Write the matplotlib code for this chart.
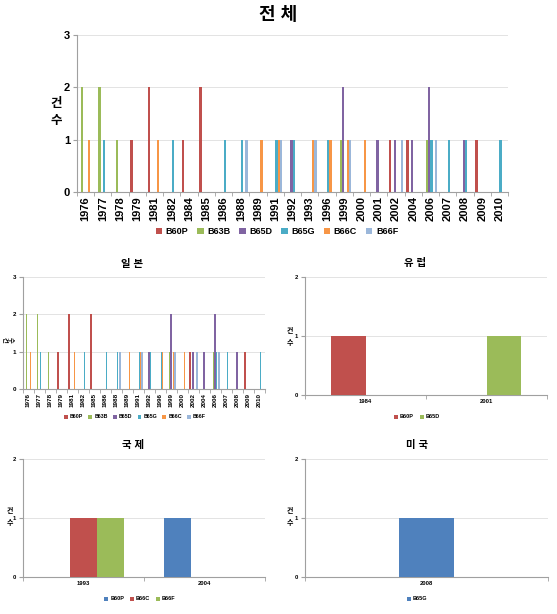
import matplotlib
matplotlib.use("Agg")
import matplotlib.pyplot as plt
import numpy as np

plt.rcParams['font.family'] = ['Liberation Sans', 'Noto Sans CJK KR', 'DejaVu Sans']
plt.rcParams['font.weight'] = 'bold'

# colours (Excel 2007 palette)
RED = '#C0504D'
GREEN = '#9BBB59'
PURPLE = '#8064A2'
TEAL = '#4BACC6'
ORANGE = '#F79646'
LBLUE = '#9BB7DA'
BLUE = '#4F81BD'

# ---- 전체 ----
years = ['1976', '1977', '1978', '1979', '1981', '1982', '1984', '1985', '1986', '1988',
         '1989', '1991', '1992', '1993', '1996', '1999', '2000', '2001', '2002', '2004',
         '2006', '2007', '2008', '2009', '2010']
b60p = [0, 0, 0, 1, 2, 0, 1, 2, 0, 0, 0, 0, 0, 0, 0, 0, 0, 0, 1, 1, 0, 0, 0, 1, 0]
b63b = [2, 2, 1, 0, 0, 0, 0, 0, 0, 0, 0, 0, 0, 0, 0, 1, 0, 0, 0, 0, 1, 0, 0, 0, 0]
b65d = [0, 0, 0, 0, 0, 0, 0, 0, 0, 0, 0, 0, 1, 0, 0, 2, 0, 1, 1, 1, 2, 0, 1, 0, 0]
b65g = [0, 1, 0, 0, 0, 1, 0, 0, 1, 1, 0, 1, 1, 0, 1, 0, 0, 0, 0, 0, 1, 1, 1, 0, 1]
b66c = [1, 0, 0, 0, 1, 0, 0, 0, 0, 0, 1, 1, 0, 1, 1, 1, 1, 0, 0, 0, 0, 0, 0, 0, 0]
b66f = [0, 0, 0, 0, 0, 0, 0, 0, 0, 1, 0, 1, 0, 1, 0, 1, 0, 0, 1, 0, 1, 0, 0, 0, 0]

# ---- 일본 ----
jp_years = ['1976', '1977', '1978', '1979', '1981', '1982', '1985', '1986', '1988', '1989',
            '1991', '1992', '1996', '1999', '2000', '2002', '2004', '2006', '2007', '2008',
            '2009', '2010']
jp_b60p = [0, 0, 0, 1, 2, 0, 2, 0, 0, 0, 0, 0, 0, 0, 0, 1, 0, 0, 0, 0, 1, 0]
jp_b63b = [2, 2, 1, 0, 0, 0, 0, 0, 0, 0, 0, 0, 0, 1, 0, 0, 0, 1, 0, 0, 0, 0]
jp_b65d = [0, 0, 0, 0, 0, 0, 0, 0, 0, 0, 0, 1, 0, 2, 0, 1, 1, 2, 0, 1, 0, 0]
jp_b65g = [0, 1, 0, 0, 0, 1, 0, 1, 1, 0, 1, 1, 1, 0, 0, 0, 0, 1, 1, 0, 0, 1]
jp_b66c = [1, 0, 0, 0, 1, 0, 0, 0, 0, 1, 1, 0, 1, 1, 1, 0, 0, 0, 0, 0, 0, 0]
jp_b66f = [0, 0, 0, 0, 0, 0, 0, 0, 1, 0, 1, 0, 0, 1, 0, 1, 0, 1, 0, 0, 0, 0]

# ---- 유럽 ----
eu_years = ['1984', '2001']
eu_b60p = [1, 0]
eu_b65d = [0, 1]

# ---- 국제 ----
in_years = ['1993', '2004']
in_b60p = [0, 1]
in_b66c = [1, 0]
in_b66f = [1, 0]

# ---- 미국 ----
us_years = ['2008']
us_b65g = [1]

main_series = [('B60P', b60p, RED), ('B63B', b63b, GREEN), ('B65D', b65d, PURPLE),
               ('B65G', b65g, TEAL), ('B66C', b66c, ORANGE), ('B66F', b66f, LBLUE)]
jp_series = [('B60P', jp_b60p, RED), ('B63B', jp_b63b, GREEN), ('B65D', jp_b65d, PURPLE),
             ('B65G', jp_b65g, TEAL), ('B66C', jp_b66c, ORANGE), ('B66F', jp_b66f, LBLUE)]
eu_series = [('B60P', eu_b60p, RED), ('B65D', eu_b65d, GREEN)]
in_series = [('B60P', in_b60p, BLUE), ('B66C', in_b66c, RED), ('B66F', in_b66f, GREEN)]
us_series = [('B65G', us_b65g, BLUE)]

W, H = 557, 614
fig = plt.figure(figsize=(W / 100, H / 100), dpi=100)


def px_axes(left, top, right, bottom):
    return fig.add_axes([left / W, 1 - bottom / H, (right - left) / W, (bottom - top) / H])


def label(x, y, s, size, rot=0):
    fig.text(x / W, 1 - y / H, s, ha='center', va='center', fontsize=size,
             fontweight='bold', rotation=rot)


def draw(ax, cats, series, ymax, width, tsize, rot, lsize, leg_xy):
    n = len(series)
    x = np.arange(len(cats))
    for i, (name, vals, col) in enumerate(series):
        ax.bar(x + (i - (n - 1) / 2) * width, vals, width, color=col, label=name, zorder=3)
    ax.set_xlim(-0.5, len(cats) - 0.5)
    ax.set_ylim(0, ymax)
    ax.set_yticks(range(ymax + 1))
    ax.grid(axis='y', color='#E3E3E3', linewidth=0.7, zorder=0)
    ax.set_xticks(x)
    ax.set_xticklabels(cats, rotation=rot, fontsize=tsize, fontweight='bold')
    ax.set_xticks(np.arange(len(cats) + 1) - 0.5, minor=True)
    ax.tick_params(axis='x', which='major', length=0, pad=3)
    ax.tick_params(axis='x', which='minor', length=3, color='#A0A0A0')
    ax.tick_params(axis='y', length=3, color='#A0A0A0', labelsize=tsize, pad=2)
    for lab in ax.get_yticklabels():
        lab.set_fontweight('bold')
    for s in ('top', 'right'):
        ax.spines[s].set_visible(False)
    for s in ('left', 'bottom'):
        ax.spines[s].set_color('#A0A0A0')
        ax.spines[s].set_linewidth(0.8)
    ax.legend(loc='center', bbox_to_anchor=(leg_xy[0] / W, 1 - leg_xy[1] / H),
              bbox_transform=fig.transFigure, ncol=n, frameon=False,
              prop={'size': lsize, 'weight': 'bold'}, handlelength=0.7, handleheight=0.7,
              handletextpad=0.4, columnspacing=1.0)


ax = px_axes(77, 35, 508, 192)
draw(ax, years, main_series, 3, 1 / 7.5, 8, 90, 6.5, (277, 232))
label(278, 15, '전 체', 13)
label(56, 104, '건', 9)
label(56, 121, '수', 9)

ax = px_axes(23, 277, 265, 389)
draw(ax, jp_years, jp_series, 3, 1 / 7.5, 4.5, 90, 3.8, (135, 417))
label(132, 264, '일 본', 7.5)
label(5, 340, '건', 4.5, 270)
label(11, 340, '수', 4.5, 270)

ax = px_axes(305, 277, 547, 395)
draw(ax, eu_years, eu_series, 2, 1 / 3.5, 4.2, 0, 4.0, (417, 417))
label(415, 263, '유 럽', 7.5)
label(290, 332, '건', 5)
label(290, 343, '수', 5)

ax = px_axes(23, 459, 265, 577)
draw(ax, in_years, in_series, 2, 1 / 4.5, 4.2, 0, 4.0, (140, 599))
label(133, 445, '국 제', 7.5)
label(10, 512, '건', 5)
label(10, 523, '수', 5)

ax = px_axes(305, 459, 548, 577)
draw(ax, us_years, us_series, 2, 0.23, 4.2, 0, 4.0, (417, 599))
label(417, 445, '미 국', 7.5)
label(290, 512, '건', 5)
label(290, 523, '수', 5)

fig.savefig('out.png', dpi=100, facecolor='white')
